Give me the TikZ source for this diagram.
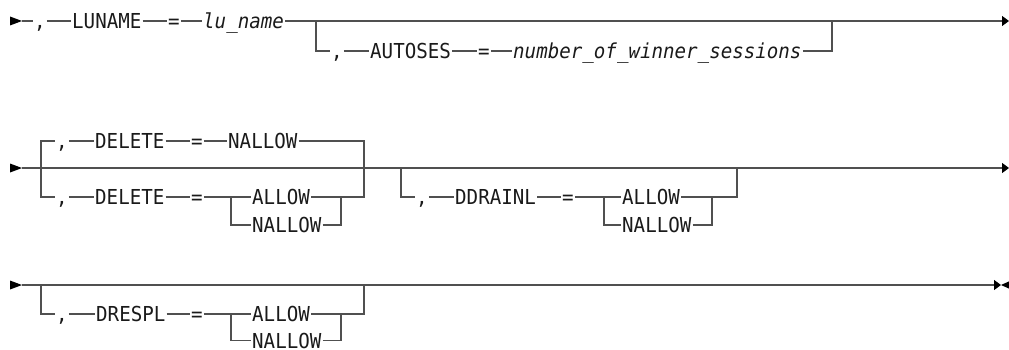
\documentclass[tikz,border=0pt]{standalone}
\usepackage{fontspec}
\newfontfamily\dm{DejaVu Sans Mono}[FakeStretch=0.93, ItalicFont={DejaVu Sans Mono Oblique}]
\usetikzlibrary{arrows.meta}
\definecolor{lnc}{HTML}{505050}
\definecolor{txc}{HTML}{1A1A1A}
\begin{document}
\begin{tikzpicture}[x=1pt,y=-1pt,
  t/.style={inner xsep=1pt, inner ysep=0pt, text height=15pt, text depth=0pt,
            font=\dm\fontsize{20.6}{21}\selectfont, text=txc},
  tw/.style={t, anchor=west},
  ti/.style={tw, font=\dm\itshape\fontsize{20.6}{21}\selectfont},
  ln/.style={draw=lnc, line width=1.2pt},
  endtip/.style={-{Triangle[length=7pt,width=10pt,color=black]}},
  starttip/.style={fill=black},
]
\useasboundingbox (0,0) rectangle (1009,350);
\clip (0,0) rectangle (1009,350);

% ---------------- Row 1 ----------------
\coordinate (s1) at (10,21);
\coordinate (s1e) at (22,21);
\fill[starttip] (s1) ++(0,-4.5) -- ++(12,4.5) -- ++(-12,4.5) -- cycle;
\node[t]  (c1)     at (40,21)  {,};
\node[tw] (luname) at (71,21)  {LUNAME};
\node[t]  (eq1)    at (174,21) {=};
\node[ti] (lun)    at (202,21) {lu\_name};
\coordinate (e1) at (1009,21);
\draw[ln] (s1e) -- (c1.west);
\draw[ln] (c1.east) -- (luname.west);
\draw[ln] (luname.east) -- (eq1.west);
\draw[ln] (eq1.east) -- (lun.west);
\draw[ln,endtip] (lun.east) -- (e1);

\coordinate (b1)  at (316,21);
\coordinate (b1r) at (832,21);
\node[t]  (c2)      at (337,51) {,};
\node[tw] (autoses) at (369,51) {AUTOSES};
\node[t]  (eq2)     at (484,51) {=};
\node[ti] (nws)     at (512,51) {number\_of\_winner\_sessions};
\draw[ln] (b1) |- (c2.west);
\draw[ln] (c2.east) -- (autoses.west);
\draw[ln] (autoses.east) -- (eq2.west);
\draw[ln] (eq2.east) -- (nws.west);
\draw[ln] (nws.east) -| (b1r);

% ---------------- Row 2 ----------------
\coordinate (s2) at (10,168);
\coordinate (s2e) at (22,168);
\fill[starttip] (s2) ++(0,-4.5) -- ++(12,4.5) -- ++(-12,4.5) -- cycle;
\coordinate (e2) at (1009,168);
\draw[ln,endtip] (s2e) -- (e2);

\coordinate (d2l) at (41,168);
\coordinate (d2r) at (364,168);
% top choice
\node[t]  (c3)    at (62,141)  {,};
\node[tw] (del1)  at (94,141)  {DELETE};
\node[t]  (eq3)   at (197,141) {=};
\node[tw] (nal1)  at (227,141) {NALLOW};
\draw[ln] (d2l) |- (c3.west);
\draw[ln] (c3.east) -- (del1.west);
\draw[ln] (del1.east) -- (eq3.west);
\draw[ln] (eq3.east) -- (nal1.west);
\draw[ln] (nal1.east) -| (d2r);
% bottom choice
\node[t]  (c4)    at (62,197)  {,};
\node[tw] (del2)  at (94,197)  {DELETE};
\node[t]  (eq4)   at (197,197) {=};
\coordinate (n2l) at (231,197);
\coordinate (n2r) at (341,197);
\node[tw] (al2)   at (251,197) {ALLOW};
\node[tw] (nal2)  at (251,225) {NALLOW};
\draw[ln] (d2l) |- (c4.west);
\draw[ln] (c4.east) -- (del2.west);
\draw[ln] (del2.east) -- (eq4.west);
\draw[ln] (eq4.east) -- (n2l) -- (al2.west);
\draw[ln] (n2l) |- (nal2.west);
\draw[ln] (nal2.east) -| (n2r);
\draw[ln] (al2.east) -- (n2r) -| (d2r);

% DDRAINL optional
\coordinate (d3l) at (401,168);
\coordinate (d3r) at (737,168);
\node[t]  (c5)    at (422,197) {,};
\node[tw] (ddr)   at (454,197) {DDRAINL};
\node[t]  (eq5)   at (568,197) {=};
\coordinate (n3l) at (604,197);
\coordinate (n3r) at (712,197);
\node[tw] (al3)   at (621,197) {ALLOW};
\node[tw] (nal3)  at (621,225) {NALLOW};
\draw[ln] (d3l) |- (c5.west);
\draw[ln] (c5.east) -- (ddr.west);
\draw[ln] (ddr.east) -- (eq5.west);
\draw[ln] (eq5.east) -- (n3l) -- (al3.west);
\draw[ln] (n3l) |- (nal3.west);
\draw[ln] (nal3.east) -| (n3r);
\draw[ln] (al3.east) -- (n3r) -| (d3r);

% ---------------- Row 3 ----------------
\coordinate (s3) at (10,285);
\coordinate (s3e) at (22,285);
\fill[starttip] (s3) ++(0,-4.5) -- ++(12,4.5) -- ++(-12,4.5) -- cycle;
\coordinate (e3) at (1001,285);
\draw[ln,endtip] (s3e) -- (e3);
\fill[starttip] (e3) -- ++(10,-4.5) -- ++(0,9) -- cycle;

\coordinate (d4l) at (41,285);
\coordinate (d4r) at (364,285);
\node[t]  (c6)    at (62,314)  {,};
\node[tw] (dre)   at (95,314)  {DRESPL};
\node[t]  (eq6)   at (197,314) {=};
\coordinate (n4l) at (231,314);
\coordinate (n4r) at (341,314);
\node[tw] (al4)   at (251,314) {ALLOW};
\node[tw] (nal4)  at (251,340.5) {NALLOW};
\draw[ln] (d4l) |- (c6.west);
\draw[ln] (c6.east) -- (dre.west);
\draw[ln] (dre.east) -- (eq6.west);
\draw[ln] (eq6.east) -- (n4l) -- (al4.west);
\draw[ln] (n4l) |- (nal4.west);
\draw[ln] (nal4.east) -| (n4r);
\draw[ln] (al4.east) -- (n4r) -| (d4r);
\end{tikzpicture}
\end{document}
